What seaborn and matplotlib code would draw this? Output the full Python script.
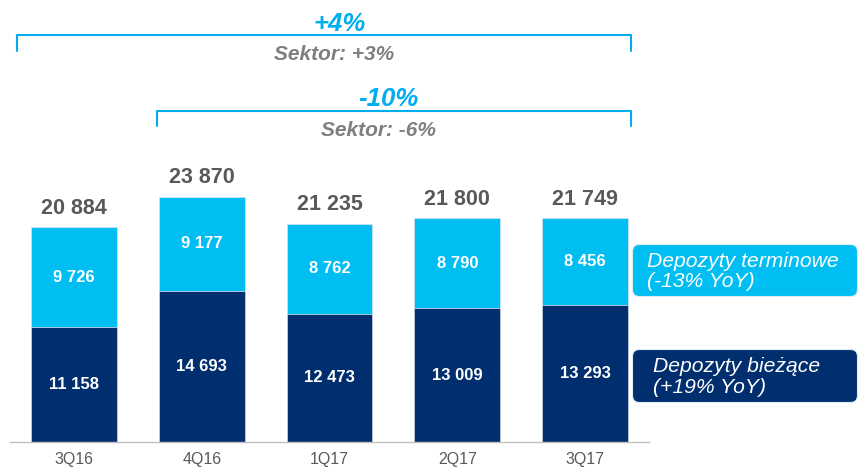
import matplotlib
matplotlib.use('Agg')
import matplotlib.pyplot as plt
import matplotlib.transforms as mtransforms
from matplotlib.patches import FancyBboxPatch
import seaborn as sns
import pandas as pd

# ── Data ───────────────────────────────────────────────────
quarters = ['3Q16', '4Q16', '1Q17', '2Q17', '3Q17']
biezace = [11158, 14693, 12473, 13009, 13293]      # current deposits
terminowe = [9726, 9177, 8762, 8790, 8456]         # term deposits
totals = [20884, 23870, 21235, 21800, 21749]       # totals as reported

legend_labels = ['Depozyty terminowe\n(-13% YoY)', 'Depozyty bieżące\n(+19% YoY)']
bracket_main = ['+4%', '-10%']
bracket_sector = ['Sektor: +3%', 'Sektor: -6%']

LIGHT = '#00BEF2'
DARK = '#002E6E'
BLUE_TXT = '#00AEEF'
GREY = '#595959'

df = pd.DataFrame({'quarter': quarters, 'biezace': biezace, 'terminowe': terminowe})
df['stack'] = df['biezace'] + df['terminowe']

sns.set_style('white')
plt.rcParams['font.family'] = ['Liberation Sans', 'DejaVu Sans']

W, H = 859, 470
fig = plt.figure(figsize=(W / 100, H / 100), dpi=100)
ax = fig.add_axes([10 / W, 28 / H, 639 / W, 442 / H])

# pixel coords (origin top-left) -> display, and origin bottom-left for patches
px = mtransforms.Affine2D().scale(0.01, -0.01).translate(0, H / 100) + fig.dpi_scale_trans
px_up = mtransforms.Affine2D().scale(0.01) + fig.dpi_scale_trans

# ── Stacked bars (light full stack, dark on top) ───────────
sns.barplot(data=df, x='quarter', y='stack', color=LIGHT, width=0.67,
            edgecolor='#CFE3F0', linewidth=0.6, saturation=1, ax=ax)
sns.barplot(data=df, x='quarter', y='biezace', color=DARK, width=0.67,
            edgecolor='#C8D3E0', linewidth=0.6, saturation=1, ax=ax)

ax.set_ylim(0, 43000)
ax.set_xlim(-0.5, len(quarters) - 0.5)
ax.set_xlabel('')
ax.set_ylabel('')
ax.set_yticks([])

fmt = lambda v: f"{v:,}".replace(',', ' ')

for i in range(len(quarters)):
    ax.text(i, biezace[i] / 2, fmt(biezace[i]), ha='center', va='center',
            color='white', fontsize=12, fontweight='bold')
    ax.text(i, biezace[i] + terminowe[i] / 2, fmt(terminowe[i]), ha='center', va='center',
            color='white', fontsize=12, fontweight='bold')
    ax.annotate(fmt(totals[i]), (i, df['stack'][i]), xytext=(0, 13.5),
                textcoords='offset points', ha='center', va='center',
                color=GREY, fontsize=15.5, fontweight='bold')

# ── Axis styling ───────────────────────────────────────────
for s in ['top', 'right', 'left']:
    ax.spines[s].set_visible(False)
ax.spines['bottom'].set_color('#BFBFBF')
ax.spines['bottom'].set_linewidth(1)
ax.tick_params(axis='x', which='major', length=0, pad=7, labelsize=11.5, labelcolor=GREY)
ax.set_xticks([i - 0.5 for i in range(len(quarters) + 1)], minor=True)
ax.tick_params(axis='x', which='minor', length=5, color='#BFBFBF', width=1, direction='out')

# ── Growth brackets ────────────────────────────────────────
brackets = [(17, 631, 35, 51), (157, 631, 111, 126)]
main_pos = [(340, 24), (388, 99)]
sect_pos = [(334, 54), (378, 130)]
for (x0, x1, yl, ye), m, s, mp, sp in zip(brackets, bracket_main, bracket_sector, main_pos, sect_pos):
    fig.add_artist(plt.Line2D([x0, x0, x1, x1], [ye, yl, yl, ye], transform=px,
                              color=BLUE_TXT, lw=1.5, solid_joinstyle='round',
                              solid_capstyle='round'))
    fig.text(mp[0], mp[1], m, transform=px, ha='center', va='center', color=BLUE_TXT,
             fontsize=18.5, fontweight='bold', fontstyle='italic')
    fig.text(sp[0], sp[1], s, transform=px, ha='center', va='center', color='#7F7F7F',
             fontsize=15, fontweight='bold', fontstyle='italic')

# ── Legend boxes ───────────────────────────────────────────
boxes = [(634, 246, 222, 49, LIGHT, 647), (634, 351, 222, 50, DARK, 653)]
for (bx, by, bw, bh, col, tx), lab in zip(boxes, legend_labels):
    fig.add_artist(FancyBboxPatch((bx, H - by - bh), bw, bh, transform=px_up,
                                  boxstyle='round,pad=1.5,rounding_size=7',
                                  facecolor=col, edgecolor='#DDEBF5', linewidth=0.8))
    fig.text(tx, by + bh / 2 + 1, lab, transform=px, ha='left', va='center', color='white',
             fontsize=15.2, fontstyle='italic', linespacing=1.1)

plt.savefig('out.png', dpi=100)
plt.close()
